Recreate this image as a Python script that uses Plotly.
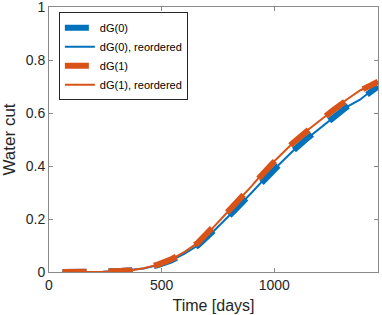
import plotly.graph_objects as go

days = [60, 120, 180, 240, 300, 365, 420, 480, 540, 600, 660, 720, 780, 840,
        900, 960, 1020, 1080, 1140, 1200, 1260, 1320, 1380, 1430, 1460]
wc_dg0 = [0.0, 0.0, 0.0, 0.001, 0.003, 0.007, 0.013, 0.025, 0.043, 0.068, 0.10,
          0.145, 0.195, 0.247, 0.30, 0.355, 0.405, 0.455, 0.50, 0.54, 0.58,
          0.622, 0.65, 0.684, 0.70]
wc_dg0_reordered = list(wc_dg0)
wc_dg1 = [0.0, 0.0, 0.0, 0.001, 0.003, 0.007, 0.014, 0.027, 0.047, 0.075, 0.11,
          0.16, 0.215, 0.27, 0.325, 0.385, 0.435, 0.485, 0.53, 0.57, 0.61,
          0.65, 0.685, 0.705, 0.718]
wc_dg1_reordered = list(wc_dg1)

BLUE = "#0072BD"
ORANGE = "#D95319"
FONT = "Liberation Sans"

fig = go.Figure()
fig.add_trace(go.Scatter(x=days, y=wc_dg0, mode="lines", name="dG(0)",
                         line=dict(color=BLUE, width=6, dash="24px,22px")))
fig.add_trace(go.Scatter(x=days, y=wc_dg0_reordered, mode="lines", name="dG(0), reordered",
                         line=dict(color=BLUE, width=2)))
fig.add_trace(go.Scatter(x=days, y=wc_dg1, mode="lines", name="dG(1)",
                         line=dict(color=ORANGE, width=6, dash="24px,22px")))
fig.add_trace(go.Scatter(x=days, y=wc_dg1_reordered, mode="lines", name="dG(1), reordered",
                         line=dict(color=ORANGE, width=2)))

axis_common = dict(showgrid=False, zeroline=False, showline=True, linecolor="#8a8a8a",
                   linewidth=1, mirror="ticks", ticks="inside", ticklen=4,
                   tickcolor="#8a8a8a",
                   tickfont=dict(family=FONT, size=14, color="#262626"),
                   layer="below traces", automargin=False, ticklabeloverflow="allow")

fig.update_layout(
    width=382, height=315,
    margin=dict(l=49, r=4, t=7, b=43),
    paper_bgcolor="white", plot_bgcolor="white",
    font=dict(family=FONT, color="#262626"),
    xaxis=dict(range=[0, 1460], tickvals=[0, 500, 1000],
               title=dict(text="Time [days]", font=dict(family=FONT, size=16), standoff=8),
               **axis_common),
    yaxis=dict(range=[0, 1], tickvals=[0, 0.2, 0.4, 0.6, 0.8, 1],
               ticktext=["0", "0.2", "0.4", "0.6", "0.8", "1"],
               title=dict(text="Water cut", font=dict(family=FONT, size=17), standoff=6),
               **axis_common),
    legend=dict(x=0.03, y=0.98, xanchor="left", yanchor="top",
                bgcolor="white", bordercolor="#262626", borderwidth=1,
                font=dict(family=FONT, size=11, color="#000000"), itemwidth=30,
                tracegroupgap=0),
    showlegend=True,
)

fig.write_html("out.html", config={"displayModeBar": False},
               post_script="document.body.style.margin='0';document.body.style.overflow='hidden';")
